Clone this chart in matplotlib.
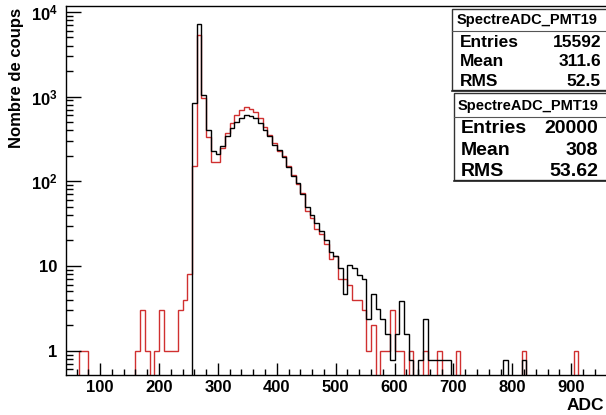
import numpy as np
import matplotlib
matplotlib.use('Agg')
import matplotlib.pyplot as plt
from matplotlib.patches import Rectangle
from matplotlib.ticker import FuncFormatter, LogLocator, MultipleLocator

plt.rcParams['font.family'] = ['Liberation Sans', 'DejaVu Sans']
plt.rcParams['font.weight'] = 'bold'
plt.rcParams['mathtext.fontset'] = 'custom'
plt.rcParams['mathtext.rm'] = 'Liberation Sans:bold'
plt.rcParams['mathtext.bf'] = 'Liberation Sans:bold'

# binning: 8 ADC channels per bin, first bin starts at 40
bin_start = 40
bin_width = 8

# red histogram, counts per bin (one line = 8 bins = 64 ADC)
red_counts = [
    0, 0, 0, 1, 1, 0, 0, 0,              # 40 - 104
    0, 0, 0, 0, 0, 0, 0, 1,              # 104 - 168
    3, 1, 0, 1, 3, 1, 1, 1,              # 168 - 232
    3, 4, 8, 150, 5300, 950, 330, 170,   # 232 - 296
    170, 250, 370, 490, 600, 690, 750, 720,  # 296 - 360
    650, 560, 440, 350, 280, 230, 200, 150,  # 360 - 424
    120, 92, 72, 44, 37, 27, 24, 18,     # 424 - 488
    12, 13, 7, 7, 6, 4, 4, 3,            # 488 - 552
    1, 2, 0, 1, 1, 3, 1, 1,              # 552 - 616
    0, 1, 0, 0, 1, 0, 0, 1,              # 616 - 680
    0, 0, 0, 1, 0, 0, 0, 0,              # 680 - 744
    0, 0, 0, 0, 0, 0, 0, 0,              # 744 - 808
    0, 1, 0, 0, 0, 0, 0, 0,              # 808 - 872
    0, 0, 0, 0, 1, 0, 0, 0,              # 872 - 936
    0, 0, 0,                             # 936 - 960
]

# black histogram, raw counts; drawn scaled to the other one
black_counts = [
    0, 0, 0, 0, 0, 0, 0, 0,
    0, 0, 0, 0, 0, 0, 0, 0,
    0, 0, 0, 0, 0, 0, 0, 0,
    0, 0, 0, 1090, 9235, 1347, 513, 295,
    269, 334, 436, 552, 641, 718, 770, 757,
    718, 629, 513, 436, 346, 300, 251, 191,
    149, 122, 92, 64, 51, 41, 33, 26,
    19, 17, 12, 6, 13, 12, 10, 9,
    3, 6, 4, 3, 2, 1, 2, 5,
    2, 1, 0, 1, 3, 1, 1, 1,
    1, 1, 0, 0, 0, 0, 0, 0,
    0, 0, 0, 0, 0, 1, 0, 0,
    0, 1, 0, 0, 0, 0, 0, 0,
    0, 0, 0, 0, 0, 0, 0, 0,
    0, 0, 0,
]
black_scale = 15592 / 20000

stat_titles = ['SpectreADC_PMT19', 'SpectreADC_PMT19']
stat_entries = ['15592', '20000']
stat_means = ['311.6', '308']
stat_rms = ['52.5', '53.62']

edges = bin_start + bin_width * np.arange(len(red_counts) + 1)
floor = 1e-3
red = np.array(red_counts, dtype=float)
black = np.array(black_counts, dtype=float) * black_scale

fig = plt.figure(figsize=(6.06, 4.15), dpi=100)
W, H = 606, 415
ax = fig.add_axes([66 / W, 40 / H, (1000 - 42) * 0.5888 / W, 369 / H])

ax.stairs(np.where(red > 0, red, floor), edges, baseline=floor,
          color='#d03030', lw=1.0)
ax.stairs(np.where(black > 0, black, floor), edges, baseline=floor,
          color='black', lw=1.0)

ax.set_yscale('log')
ax.set_xlim(42, 1000)
ax.set_ylim(0.516, 11740)

ax.xaxis.set_major_locator(MultipleLocator(100))
ax.xaxis.set_minor_locator(MultipleLocator(20))
ax.yaxis.set_major_locator(LogLocator(base=10))
ax.yaxis.set_minor_locator(LogLocator(base=10, subs=np.arange(2, 10)))


def ylab(v, pos):
    if v < 5:
        return '1'
    if v < 50:
        return '10'
    return r'$\mathbf{10^{%d}}$' % round(np.log10(v))


def xlab(v, pos):
    # the 1000 label falls outside the picture
    return '' if v > 950 else '%d' % v


ax.yaxis.set_major_formatter(FuncFormatter(ylab))
ax.xaxis.set_major_formatter(FuncFormatter(xlab))
ax.tick_params(which='both', direction='in', top=False, right=False,
               width=1.0, color='black')
ax.tick_params(axis='x', which='major', length=8.6, pad=3.5, labelsize=12)
ax.tick_params(axis='x', which='minor', length=4.3)
ax.tick_params(axis='y', which='major', length=10.8, pad=6, labelsize=12)
ax.tick_params(axis='y', which='minor', length=5)
for s in ax.spines.values():
    s.set_linewidth(1.0)

fig.text(17 / W, 1 - 8 / H, 'Nombre de coups', rotation=90, ha='center',
         va='top', fontsize=12, fontweight='bold')
fig.text(604 / W, 1 - 405 / H, 'ADC', ha='right', va='center',
         fontsize=12.5, fontweight='bold')

# stat boxes, drawn on an overlay in pixel coordinates
ov = fig.add_axes([0, 0, 1, 1])
ov.set_xlim(0, W)
ov.set_ylim(H, 0)
ov.axis('off')

boxes = [
    dict(x=452, top=9.5, bot=90.5, sep=31, title_y=20, rows=[42.5, 62, 81],
         lab_x=460, val_x=601, size=12.5, tsize=10.5),
    dict(x=454, top=93.5, bot=180.5, sep=117, title_y=106, rows=[128.5, 150, 171.5],
         lab_x=461, val_x=598, size=14, tsize=10.5),
]
for i, b in enumerate(boxes):
    ov.add_patch(Rectangle((b['x'], b['top']), 170, b['bot'] - b['top'],
                           facecolor='white', edgecolor='#333333', lw=1.0))
    ov.plot([b['x'], 620], [b['bot'] + 1, b['bot'] + 1], color='#222222', lw=1.2)
    ov.plot([b['x'], 620], [b['sep'], b['sep']], color='#555555', lw=0.8)
    ov.text((b['x'] + 602) / 2, b['title_y'], stat_titles[i], ha='center',
            va='center', fontsize=b['tsize'], fontweight='bold')
    labels = ['Entries', 'Mean', 'RMS']
    values = [stat_entries[i], stat_means[i], stat_rms[i]]
    for lab, val, y in zip(labels, values, b['rows']):
        ov.text(b['lab_x'], y, lab, ha='left', va='center',
                fontsize=b['size'], fontweight='bold')
        ov.text(b['val_x'], y, val, ha='right', va='center',
                fontsize=b['size'], fontweight='bold')

fig.savefig('out.png', dpi=100)
